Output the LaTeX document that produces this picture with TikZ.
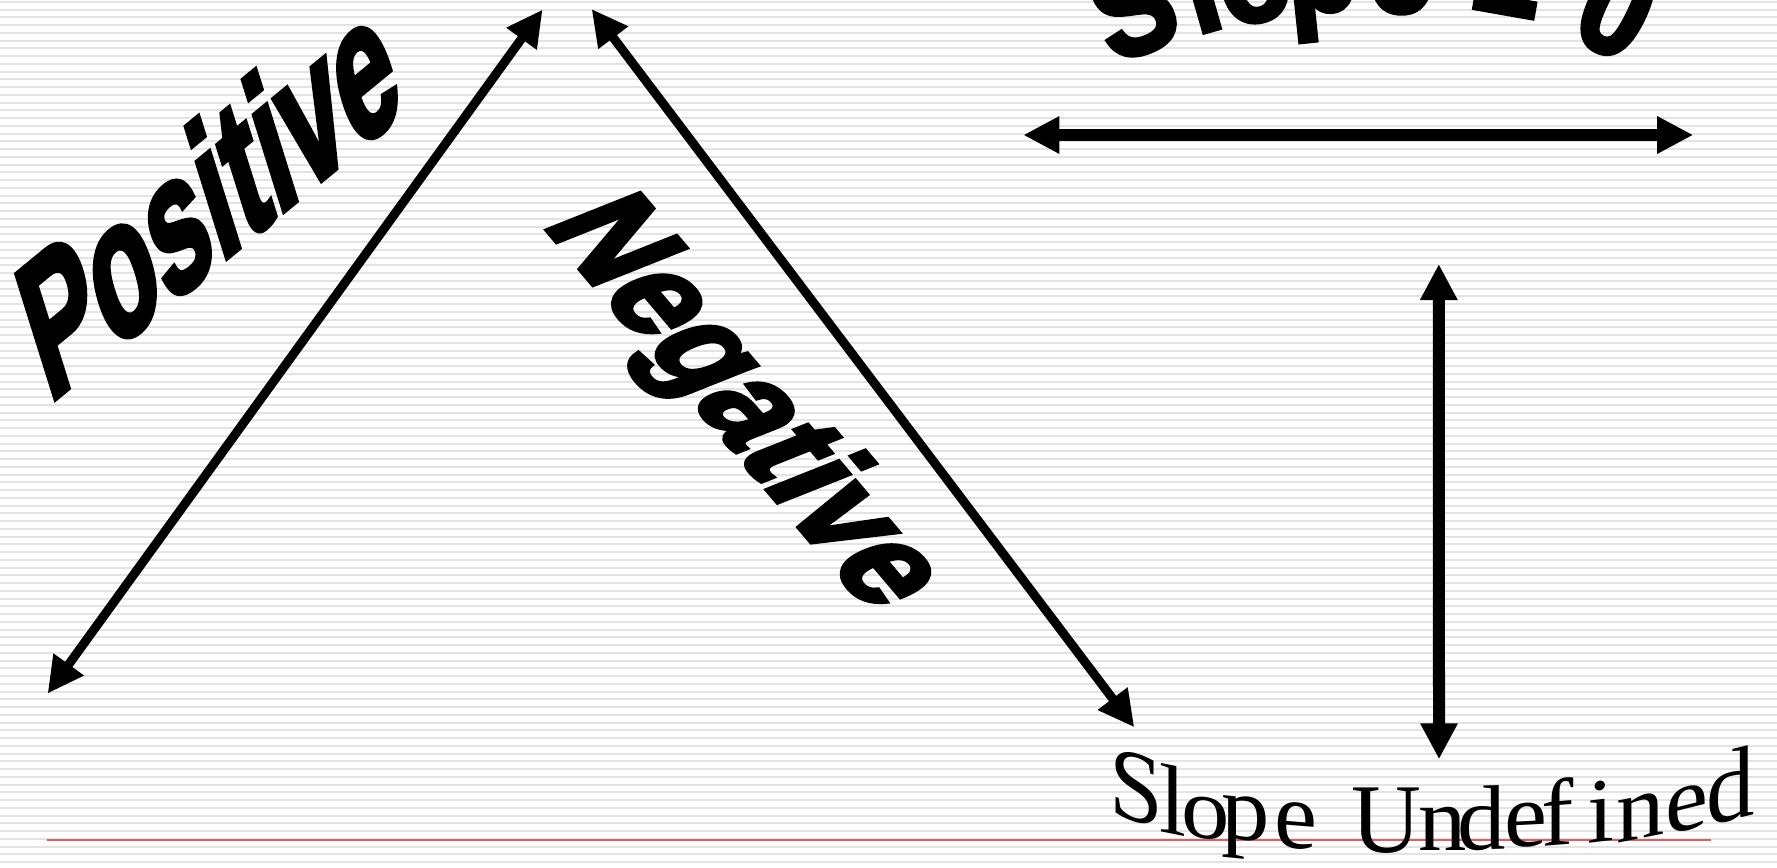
\documentclass[tikz,border=0pt]{standalone}
\usepackage{fontspec}
\setmainfont{Liberation Serif}
\newfontfamily\wafont{Liberation Sans}[FakeBold=3.5]
\usetikzlibrary{arrows.meta}
\definecolor{rulered}{RGB}{210,100,100}

\begin{document}
\begin{tikzpicture}[x=0.01cm, y=-0.01cm,
  stripe/.style={gray!22, line width=0.02cm},
  slopearrow/.style={line width=0.09cm,
    {Triangle[length=3.6mm,width=3.5mm]}-{Triangle[length=3.6mm,width=3.5mm]}},
  flatarrow/.style={slopearrow, line width=0.12cm},
  wordart/.style={font=\wafont\bfseries\fontsize{10}{12}\selectfont,
    inner sep=0pt, anchor=base west},
  arch/.style={yscale=1.15, font=\wafont\bfseries\fontsize{33.6}{40}\selectfont,
    inner sep=0pt, anchor=base},
  undef/.style={font=\fontsize{27.5}{33}\selectfont, inner sep=0pt, anchor=base}]
\useasboundingbox (0,0) rectangle (1777,867);
\fill[white] (0,0) rectangle (1777,867);
% ruled background
\foreach \k in {0,...,111}
  \draw[stripe] (0,1.8+7.75*\k) -- (1777,1.8+7.75*\k);
\draw[rulered, line width=0.015cm] (47,840) -- (1711,840);

% arrow ends
\coordinate (pos-lo) at (47.6,693.6);
\coordinate (pos-hi) at (542.6,9.6);
\coordinate (neg-hi) at (591.6,9);
\coordinate (neg-lo) at (1134.3,727.3);
\coordinate (flat-l) at (1023.3,135);
\coordinate (flat-r) at (1693.2,135);
\coordinate (vert-t) at (1438.8,264);
\coordinate (vert-b) at (1439,759.3);

\draw[slopearrow] (pos-lo) -- (pos-hi);
\draw[slopearrow] (neg-hi) -- (neg-lo);
\draw[flatarrow] (flat-l) -- (flat-r);
\draw[flatarrow] (vert-t) -- (vert-b);

% labels
\node[wordart, cm={2.655,2.18,-1.596,5.10,(0,0)}] (positive) at (47,405) {Positive};
\node[wordart, cm={2.251,-2.655,3.84,1.53,(0,0)}] (negative) at (540,222) {Negative};
\foreach \ch/\x/\y/\ang [count=\i] in {S/1150/50/22, l/1212/30/16, o/1262/20/12,
    p/1325/11/6, e/1400/12/-1, =/1500/32/-10, 0/1597/50/-26}
  \node[rotate=\ang, arch] (flat\i) at (\x,\y) {\ch};
\foreach \ch/\x/\y/\s/\k [count=\i] in {S/1136/822/1.06/-0.3,
    l/1173/834/1.02/-0.2, o/1206/838/0.9/-0.12, p/1246/840/0.95/-0.1,
    e/1296/848/1.0/-0.08, U/1386/852/1.02/0, n/1443/850/0.95/0,
    d/1482/850/0.95/0.03, e/1526/846/0.95/0.05, f/1558/845/0.98/0.08,
    i/1601/842/0.95/0.12, n/1641/839/0.95/0.2, e/1687/830/0.95/0.25,
    d/1731/820/1.05/0.25}
  \node[undef, yslant=\k, yscale=\s] (undef\i) at (\x,\y) {\ch};
\end{tikzpicture}
\end{document}
